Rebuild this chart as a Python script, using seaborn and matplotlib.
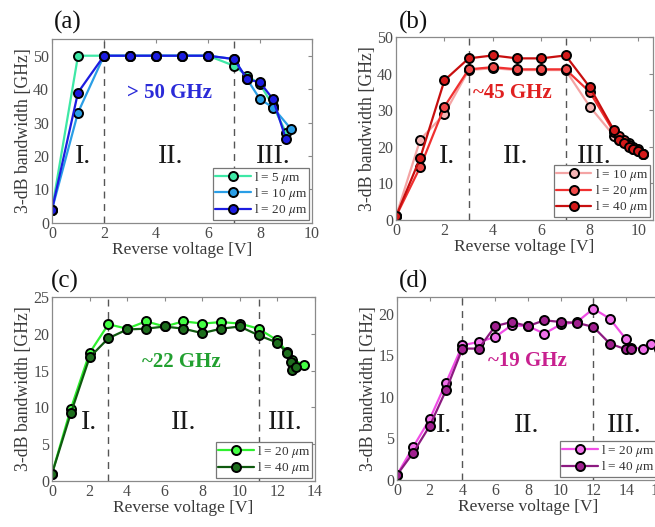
import numpy as np
import pandas as pd
import matplotlib
matplotlib.use("Agg")
import matplotlib.pyplot as plt
import seaborn as sns

sns.set_theme(style="white")
plt.rcParams['font.family'] = ['Liberation Serif', 'DejaVu Serif']
plt.rcParams['mathtext.fontset'] = 'stix'

# ---------------- data ----------------
# panel (a)
a_x5 = [0, 1, 2, 3, 4, 5, 6, 7, 7.5, 8, 8.5, 9]
a_y5 = [4, 50, 50, 50, 50, 50, 50, 47, 44, 41.5, 35, 27]
a_x10 = [0, 1, 2, 3, 4, 5, 6, 7, 7.5, 8, 8.5, 9.2]
a_y10 = [4, 33, 50, 50, 50, 50, 50, 49, 43, 37, 34.5, 28]
a_x20 = [0, 1, 2, 3, 4, 5, 6, 7, 7.5, 8, 8.5, 9]
a_y20 = [4, 39, 50, 50, 50, 50, 50, 49, 43, 42, 37, 25]
a_labels = [r'l = 5 $\mu$m', r'l = 10 $\mu$m', r'l = 20 $\mu$m']

# panel (b)
b_x = [0, 1, 2, 3, 4, 5, 6, 7, 8, 9, 9.2, 9.4, 9.6, 9.8, 10, 10.2]
b_y10 = [1, 22, 29, 41, 41.5, 41, 41, 41, 31, 23, 22, 21.5, 21, 20, 19, 18]
b_y20 = [1, 14.5, 31, 41.2, 41.8, 41.2, 41.2, 41.2, 35, 24, 23, 22, 20.5, 19.5, 19.5, 18]
b_y40 = [1, 17, 38.2, 44.2, 45, 44.2, 44.2, 45, 36.3, 24.5, 22, 21, 20, 19.5, 19, 18]
b_labels = [r'l = 10 $\mu$m', r'l = 20 $\mu$m', r'l = 40 $\mu$m']

# panel (c)
c_x20 = [0, 1, 2, 3, 4, 5, 6, 7, 8, 9, 10, 11, 12, 12.5, 12.8, 13.4]
c_y20 = [1, 9.8, 17.4, 21.3, 20.7, 21.7, 21.0, 21.7, 21.4, 21.6, 21.4, 20.7, 19.1, 17.6, 16.5, 15.8]
c_x40 = [0, 1, 2, 3, 4, 5, 6, 7, 8, 9, 10, 11, 12, 12.5, 12.7, 12.8, 13.0]
c_y40 = [1, 9.2, 16.8, 19.4, 20.6, 20.7, 21.0, 20.7, 20.1, 20.7, 21.0, 19.8, 18.8, 17.4, 16.2, 15.1, 15.5]
c_labels = [r'l = 20 $\mu$m', r'l = 40 $\mu$m']

# panel (d)
d_x20 = [0, 1, 2, 3, 4, 5, 6, 7, 8, 9, 10, 11, 12, 13, 14, 14.3, 15, 15.5, 16]
d_y20 = [0.6, 4.0, 7.3, 11.7, 16.2, 16.6, 17.2, 18.6, 18.5, 17.6, 18.7, 19.0, 20.6, 19.4, 16.9, 15.9, 15.8, 16.4, 15.8]
d_x40 = [0, 1, 2, 3, 4, 5, 6, 7, 8, 9, 10, 11, 12, 13, 14, 14.3]
d_y40 = [0.6, 3.3, 6.5, 10.8, 15.8, 15.8, 18.5, 19.0, 18.5, 19.2, 19.0, 18.9, 18.4, 16.4, 15.7, 15.7]
d_labels = [r'l = 20 $\mu$m', r'l = 40 $\mu$m']

# ---------------- figure ----------------
fig = plt.figure(figsize=(6.55, 5.27), dpi=100)
fig.patch.set_facecolor('white')

tick_col = '#4a4a4a'
label_col = '#3a3a3a'
spine_col = '#8a8a8a'


def style_axes(ax, xlim, ylim, xticks, yticks):
    ax.set_xlim(*xlim)
    ax.set_ylim(*ylim)
    ax.set_xticks(xticks)
    ax.set_yticks(yticks)
    ax.set_facecolor('white')
    for s in ax.spines.values():
        s.set_color(spine_col)
        s.set_linewidth(0.9)
        s.set_visible(True)
    ax.tick_params(direction='in', length=3, width=0.8, color=spine_col,
                   top=True, right=True, labelsize=11.5, labelcolor=tick_col, pad=2)
    ax.set_xlabel('Reverse voltage [V]', fontsize=12.5, color=label_col, labelpad=0)
    ax.set_ylabel('3-dB bandwidth [GHz]', fontsize=12.8, color=label_col, labelpad=1)
    ax.grid(False)


def draw_series(ax, xs, ys, line_col, face_col, label):
    df = pd.DataFrame({'V': xs, 'BW': ys})
    sns.lineplot(data=df, x='V', y='BW', ax=ax, color=line_col, marker='o',
                 markersize=6.5, markerfacecolor=face_col, markeredgecolor='black',
                 markeredgewidth=1.4, linewidth=1.6, estimator=None, sort=False,
                 legend=False)
    h = ax.lines[-1]
    h.set_label(label)
    return h


def regions(ax, pos, y):
    for txt, xx in zip(['I.', 'II.', 'III.'], pos):
        ax.text(xx, y, txt, fontsize=20, ha='center', va='center', color='#1a1a1a')


def vlines(ax, xs):
    for xv in xs:
        ax.axvline(xv, color='#555555', linestyle=(0, (5, 4)), linewidth=1.0, zorder=1)


def legend(ax, handles):
    leg = ax.legend(handles=handles, loc='lower right', fontsize=9.5, frameon=True,
                    fancybox=False, edgecolor='#777777', framealpha=1,
                    handlelength=2.7, handletextpad=0.25, borderpad=0.15,
                    labelspacing=0.02, borderaxespad=0.2)
    leg.get_frame().set_linewidth(0.9)
    for t in leg.get_texts():
        t.set_color('#333333')


# (a)
ax = fig.add_axes([0.0794, 0.577, 0.397, 0.349])
vlines(ax, [2, 7])
h1 = draw_series(ax, a_x5, a_y5, '#3ee8a6', '#3ee8a6', a_labels[0])
h2 = draw_series(ax, a_x10, a_y10, '#2a9ee6', '#2a9ee6', a_labels[1])
h3 = draw_series(ax, a_x20, a_y20, '#1c1ce0', '#1c1ce0', a_labels[2])
style_axes(ax, (0, 10), (0, 55), range(0, 11, 2), range(0, 51, 10))
regions(ax, [1.2, 4.55, 8.5], 20)
ax.text(4.5, 39, '> 50 GHz', fontsize=15, fontweight='bold', color='#2a2ad8',
        ha='center', va='center')
legend(ax, [h1, h2, h3])

# (b)
ax = fig.add_axes([0.6046, 0.5825, 0.392, 0.347])
vlines(ax, [3, 7])
h1 = draw_series(ax, b_x, b_y10, '#f4a4a4', '#f4b4b4', b_labels[0])
h2 = draw_series(ax, b_x, b_y20, '#f03030', '#f04848', b_labels[1])
h3 = draw_series(ax, b_x, b_y40, '#c80f0f', '#d41a1a', b_labels[2])
style_axes(ax, (0, 10.6), (0, 50), range(0, 11, 2), range(0, 51, 10))
regions(ax, [2.1, 4.95, 8.2], 17.5)
ax.text(4.8, 34.7, '~45 GHz', fontsize=15, fontweight='bold', color='#e02020',
        ha='center', va='center')
legend(ax, [h1, h2, h3])

# (c)
ax = fig.add_axes([0.0794, 0.0873, 0.4015, 0.349])
vlines(ax, [3, 11])
h1 = draw_series(ax, c_x20, c_y20, '#2ef02e', '#44ff44', c_labels[0])
h2 = draw_series(ax, c_x40, c_y40, '#0f5a0f', '#1d6e1d', c_labels[1])
style_axes(ax, (0, 14), (0, 25), range(0, 15, 2), range(0, 26, 5))
regions(ax, [2.0, 7.0, 12.4], 8.0)
ax.text(6.9, 16.2, '~22 GHz', fontsize=15, fontweight='bold', color='#22a030',
        ha='center', va='center')
legend(ax, [h1, h2])

# (d)
ax = fig.add_axes([0.606, 0.0892, 0.4, 0.3472])
vlines(ax, [4, 12])
h1 = draw_series(ax, d_x20, d_y20, '#f04ee6', '#f070ea', d_labels[0])
h2 = draw_series(ax, d_x40, d_y40, '#8c1a80', '#a0208f', d_labels[1])
style_axes(ax, (0, 16), (0, 22), range(0, 17, 2), range(0, 21, 5))
regions(ax, [2.9, 7.9, 13.9], 6.6)
ax.text(8.0, 14.3, '~19 GHz', fontsize=15, fontweight='bold', color='#c8208f',
        ha='center', va='center')
legend(ax, [h1, h2])

# panel labels
for txt, xx, yy in [('(a)', 0.104, 0.958), ('(b)', 0.632, 0.958),
                    ('(c)', 0.099, 0.465), ('(d)', 0.632, 0.465)]:
    fig.text(xx, yy, txt, fontsize=18, ha='center', va='center', color='#111111')

fig.savefig('out.png', dpi=100, facecolor='white')
